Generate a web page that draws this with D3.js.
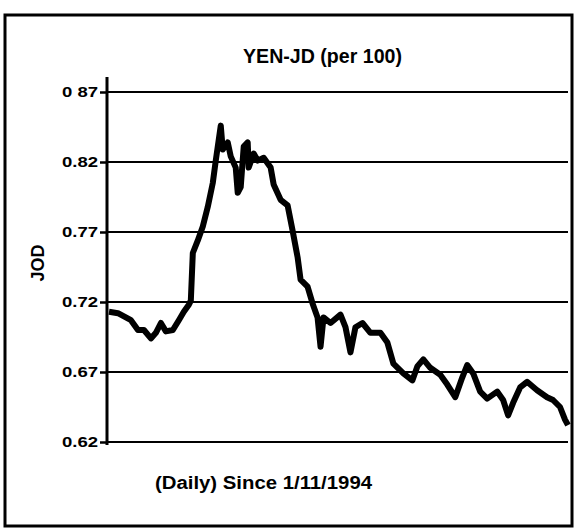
<!DOCTYPE html>
<html>
<head>
<meta charset="utf-8">
<script src="https://cdn.jsdelivr.net/npm/d3@7"></script>
<style>
  body { margin: 0; background: #fff; }
  text { font-family: "Liberation Sans", Arial, sans-serif; font-weight: bold; fill: #000; }
</style>
</head>
<body>
<div id="chart"></div>
<script>
// trading day index since 1/11/1994 and the rate (JOD per 100 yen)
var days = [0, 18, 44, 58, 70, 84, 94, 104, 114, 128, 140, 150, 160, 164, 168, 178, 188, 198, 208, 214,
  224, 228, 238, 244, 254, 258, 264, 270, 278, 280, 290, 298, 310, 324, 330, 344, 358, 368, 378, 384,
  398, 408, 418, 424, 430, 444, 464, 474, 484, 494, 508, 524, 544, 558, 570, 590, 608, 618, 630, 644,
  664, 678, 694, 708, 718, 730, 744, 758, 778, 790, 800, 810, 824, 838, 858, 878, 890, 904, 914, 920];
var rates = [0.713, 0.712, 0.707, 0.700, 0.700, 0.694, 0.698, 0.705, 0.699, 0.700, 0.707, 0.713, 0.718, 0.721, 0.755, 0.764, 0.774, 0.788, 0.805, 0.821,
  0.846, 0.829, 0.834, 0.824, 0.816, 0.798, 0.802, 0.831, 0.834, 0.816, 0.826, 0.821, 0.823, 0.816, 0.804, 0.793, 0.789, 0.771, 0.752, 0.736,
  0.731, 0.719, 0.709, 0.688, 0.709, 0.705, 0.711, 0.702, 0.684, 0.702, 0.705, 0.698, 0.698, 0.691, 0.676, 0.669, 0.664, 0.674, 0.679, 0.673,
  0.668, 0.661, 0.652, 0.666, 0.675, 0.669, 0.656, 0.651, 0.656, 0.650, 0.639, 0.648, 0.659, 0.663, 0.657, 0.652, 0.650, 0.645, 0.636, 0.632];
var yTicks = [0.62, 0.67, 0.72, 0.77, 0.82, 0.87];
var tickLabels = ['0.62', '0.67', '0.72', '0.77', '0.82', '0 87'];

var W = 574, H = 530;
var svg = d3.select('#chart').append('svg')
  .attr('width', W).attr('height', H);

// outer frame
svg.append('rect')
  .attr('x', 5).attr('y', 15).attr('width', 567).attr('height', 511)
  .attr('fill', 'none').attr('stroke', '#000').attr('stroke-width', 3);

var x = d3.scaleLinear().domain([0, 920]).range([109, 568]);
var y = d3.scaleLinear().domain([0.62, 0.87]).range([442, 92]);

// gridlines
svg.selectAll('line.grid')
  .data(yTicks)
  .enter().append('line')
    .attr('class', 'grid')
    .attr('x1', 107).attr('x2', 568)
    .attr('y1', function(d) { return y(d); })
    .attr('y2', function(d) { return y(d); })
    .attr('stroke', '#000').attr('stroke-width', 2);

// y axis
var axis = d3.axisLeft(y).tickValues(yTicks)
  .tickFormat(function(d, i) { return tickLabels[i]; })
  .tickSize(7).tickPadding(2);
var g = svg.append('g').attr('transform', 'translate(107,0)').call(axis);
g.select('.domain').remove();
g.selectAll('.tick line').attr('stroke', '#000').attr('stroke-width', 2.5);
g.selectAll('.tick text')
  .attr('font-size', 14).attr('font-family', '"Liberation Sans", Arial, sans-serif')
  .attr('font-weight', 'bold').attr('fill', '#000')
  .attr('textLength', 36).attr('lengthAdjust', 'spacingAndGlyphs');
svg.append('line')
  .attr('x1', 107).attr('x2', 107).attr('y1', 77).attr('y2', 445)
  .attr('stroke', '#000').attr('stroke-width', 3);

// rate line
var line = d3.line()
  .x(function(d, i) { return x(days[i]); })
  .y(function(d) { return y(d); });
svg.append('path')
  .datum(rates)
  .attr('d', line)
  .attr('fill', 'none').attr('stroke', '#000')
  .attr('stroke-width', 6).attr('stroke-linejoin', 'round');

// texts
svg.append('text').attr('x', 243).attr('y', 63)
  .attr('font-size', 20).attr('textLength', 159).attr('lengthAdjust', 'spacingAndGlyphs')
  .text('YEN-JD (per 100)');
svg.append('text').attr('transform', 'translate(44,263) rotate(-90)').attr('text-anchor', 'middle')
  .attr('font-size', 18).text('JOD');
svg.append('text').attr('x', 155).attr('y', 489)
  .attr('font-size', 18).attr('textLength', 217).attr('lengthAdjust', 'spacingAndGlyphs')
  .text('(Daily) Since 1/11/1994');
</script>
</body>
</html>
